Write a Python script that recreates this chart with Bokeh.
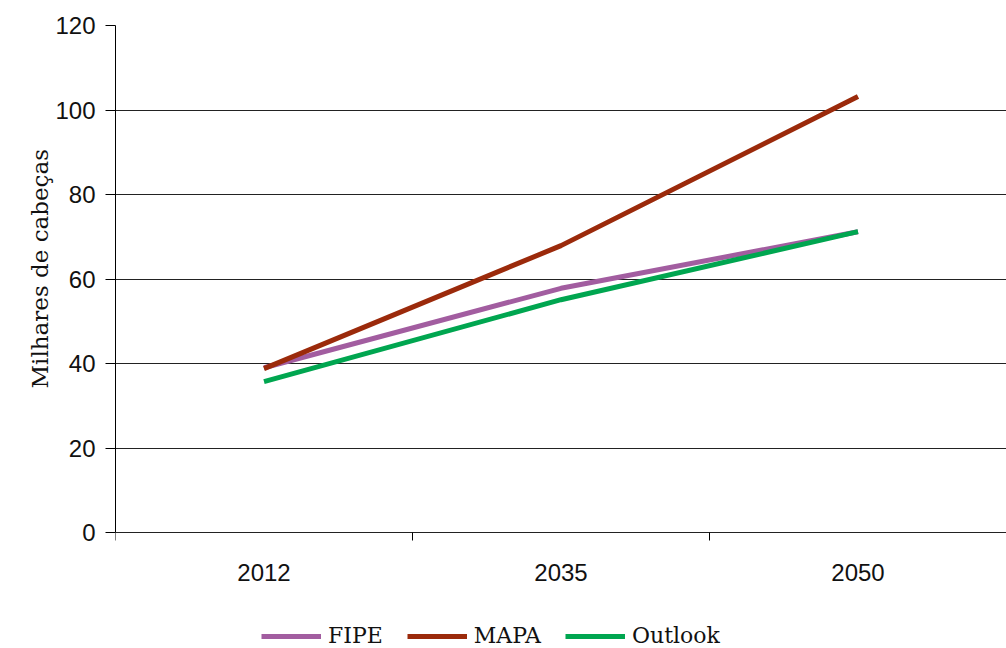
import math
from bokeh.plotting import figure
from bokeh.models import Range1d, FixedTicker, Legend, LegendItem, Title
from bokeh.core.properties import value
from bokeh.embed import file_html
from bokeh.resources import INLINE

years = ["2012", "2035", "2050"]
fipe = [39.0, 57.8, 71.2]
mapa = [38.8, 67.9, 103.2]
outlook = [35.7, 55.1, 71.2]
y_ticks = [0, 20, 40, 60, 80, 100, 120]
y_label = "Milhares de cabeças"

series_names = ["FIPE", "MAPA", "Outlook"]
series_vals = [fipe, mapa, outlook]
colors = ["#A25DA0", "#9B2A0B", "#00A650"]

xs = [i + 0.5 for i in range(len(years))]
bounds = list(range(len(years) + 1))

TICK_FONT = "Liberation Sans"
SERIF = "DejaVu Serif"

W, H = 1006, 648
LEFT, TOP, BOTTOM_SPACE = 115, 25, 116
FRAME_H_DATA = H - TOP - BOTTOM_SPACE  # pixels spanning 0..120
y_min = -BOTTOM_SPACE * max(y_ticks) / FRAME_H_DATA

p = figure(width=W, height=H, output_backend="svg", toolbar_location=None,
           x_range=Range1d(0, len(years)), y_range=Range1d(y_min, max(y_ticks)),
           x_axis_location=None,
           min_border_left=LEFT, min_border_top=TOP, min_border_right=0,
           min_border_bottom=0)
p.outline_line_color = None
p.background_fill_color = "white"
p.border_fill_color = "white"

# Y axis
p.yaxis.ticker = FixedTicker(ticks=y_ticks)
p.yaxis.bounds = (min(y_ticks), max(y_ticks))
p.yaxis.major_tick_out = 10
p.yaxis.major_tick_in = 0
p.yaxis.minor_tick_out = 0
p.yaxis.minor_tick_in = 0
p.yaxis.major_label_standoff = 10
p.yaxis.major_label_text_font = TICK_FONT
p.yaxis.major_label_text_font_size = "24px"
p.yaxis.major_label_text_color = "#111"
p.yaxis.axis_line_color = "black"
p.yaxis.major_tick_line_color = "black"

# Y axis title, centred on the 0..120 span
p.add_layout(Title(text=y_label, align="left", offset=260, vertical_align="bottom",
                   text_font=SERIF, text_font_style="normal", text_font_size="23px",
                   text_color="#111", standoff=0), "left")

p.xgrid.grid_line_color = None
p.ygrid.ticker = FixedTicker(ticks=y_ticks)
p.ygrid.grid_line_color = "#222"
p.ygrid.grid_line_width = 1

# Category axis: boundary tick marks and centred labels at value 0
p.ray(x=bounds, y=[0] * len(bounds), length=8, length_units="screen",
      angle=-math.pi / 2, line_color="black", line_width=1)
p.text(x=xs, y=[0] * len(xs), text=years, y_offset=40,
       text_align="center", text_baseline="middle",
       text_font=value(TICK_FONT), text_font_size="24px", text_color="#111")

renderers = []
for name, vals, c in zip(series_names, series_vals, colors):
    r = p.line(xs, vals, line_color=c, line_width=5)
    renderers.append((name, r))

legend = Legend(items=[LegendItem(label=n, renderers=[r]) for n, r in renderers],
                orientation="horizontal", location=(146, 0),
                glyph_width=60, glyph_height=20, label_standoff=7, spacing=24,
                label_text_font=SERIF, label_text_font_size="22px",
                label_text_color="#111", border_line_color=None,
                background_fill_alpha=0, margin=0, padding=0)
p.add_layout(legend, "center")

open("out.html", "w").write(file_html(p, INLINE))
